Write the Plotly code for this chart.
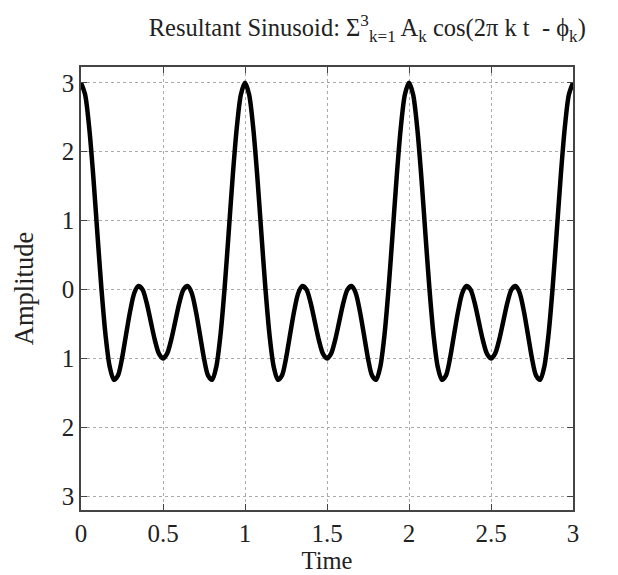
import plotly.graph_objects as go

# resultant waveform, t from 0 to 3 in steps of 0.025
time = [round(i * 0.025, 3) for i in range(121)]
amplitude = [
    3.0, 2.83, 2.35, 1.64, 0.81, 0.0, -0.67, -1.12, -1.31, -1.25,
    -1.0, -0.65, -0.31, -0.05, 0.05, 0.0, -0.19, -0.46, -0.73, -0.93,
    -1.0, -0.93, -0.73, -0.46, -0.19, 0.0, 0.05, -0.05, -0.31, -0.65,
    -1.0, -1.25, -1.31, -1.12, -0.67, 0.0, 0.81, 1.64, 2.35, 2.83,
    3.0, 2.83, 2.35, 1.64, 0.81, 0.0, -0.67, -1.12, -1.31, -1.25,
    -1.0, -0.65, -0.31, -0.05, 0.05, 0.0, -0.19, -0.46, -0.73, -0.93,
    -1.0, -0.93, -0.73, -0.46, -0.19, 0.0, 0.05, -0.05, -0.31, -0.65,
    -1.0, -1.25, -1.31, -1.12, -0.67, 0.0, 0.81, 1.64, 2.35, 2.83,
    3.0, 2.83, 2.35, 1.64, 0.81, 0.0, -0.67, -1.12, -1.31, -1.25,
    -1.0, -0.65, -0.31, -0.05, 0.05, 0.0, -0.19, -0.46, -0.73, -0.93,
    -1.0, -0.93, -0.73, -0.46, -0.19, 0.0, 0.05, -0.05, -0.31, -0.65,
    -1.0, -1.25, -1.31, -1.12, -0.67, 0.0, 0.81, 1.64, 2.35, 2.83,
    3.0,
]

x_ticks = [0, 0.5, 1, 1.5, 2, 2.5, 3]
x_labels = ["0", "0.5", "1", "1.5", "2", "2.5", "3"]
y_ticks = [3, 2, 1, 0, -1, -2, -3]
y_labels = ["3", "2", "1", "0", "1", "2", "3"]

font = "Liberation Serif, Times New Roman, serif"

fig = go.Figure()
fig.add_trace(go.Scatter(x=time, y=amplitude, mode="lines",
                         line=dict(color="black", width=4.5, shape="spline", smoothing=0.8)))

axis_style = dict(showline=True, linecolor="#444", linewidth=1.5, mirror="ticks",
                  ticks="inside", ticklen=6, tickcolor="#444",
                  showgrid=True, gridcolor="#aaa", griddash="dot", gridwidth=1.2,
                  zeroline=False, automargin=False,
                  tickfont=dict(family=font, size=25, color="#222"))

fig.update_xaxes(range=[0, 3], tickvals=x_ticks, ticktext=x_labels,
                 title=dict(text="Time", font=dict(family=font, size=24.5, color="#222"), standoff=2),
                 **axis_style)
fig.update_yaxes(range=[-3.2, 3.23], tickvals=y_ticks, ticktext=y_labels,
                 title=dict(text="Amplitude", font=dict(family=font, size=26.5, color="#222"), standoff=20),
                 **axis_style)

# page body adds an 8px margin, so the figure is a bit smaller than the window
fig.update_layout(
    width=610, height=567,
    margin=dict(l=73, r=45, t=59, b=65),
    plot_bgcolor="white", paper_bgcolor="white",
    showlegend=False,
    font=dict(family=font, color="#222"),
    title=dict(text="Resultant Sinusoid: Σ<sup>3</sup><sub>k=1</sub> A<sub>k</sub> cos(2π k t  - ϕ<sub>k</sub>)",
               x=0.589, xanchor="center", y=0.98, yanchor="top",
               font=dict(family=font, size=24.5, color="#222")),
)

fig.write_html("out.html")
